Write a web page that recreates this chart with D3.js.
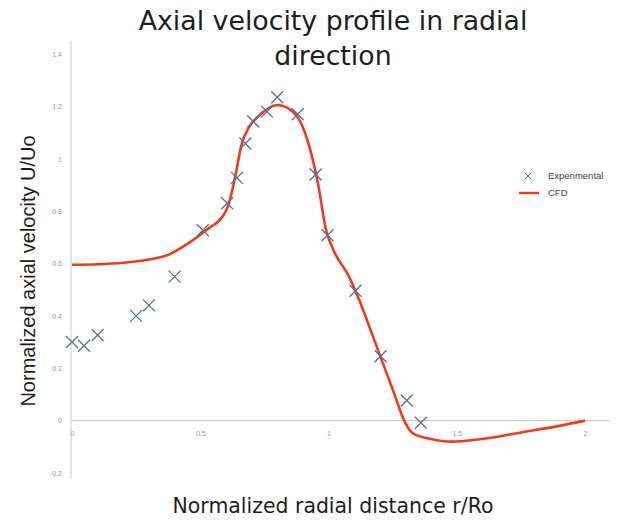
<!DOCTYPE html>
<html><head><meta charset="utf-8">
<script src="https://cdn.jsdelivr.net/npm/d3@7"></script>
<style>body{margin:0;background:#fff}svg{display:block}</style>
</head><body><svg id="c" width="640" height="520"></svg>
<script>
const xTicks = [0, 0.5, 1, 1.5, 2];
const xTickLabels = ["0", "0.5", "1", "1.5", "2"];
const yTicks = [-0.2, 0, 0.2, 0.4, 0.6, 0.8, 1, 1.2, 1.4];
const yTickLabels = ["-0.2", "0", "0.2", "0.4", "0.6", "0.8", "1", "1.2", "1.4"];
const expX = [0.00, 0.047, 0.10, 0.25, 0.30, 0.40, 0.51, 0.605, 0.643, 0.676, 0.707, 0.76, 0.80, 0.88, 0.95, 0.996, 1.105, 1.203, 1.305, 1.36];
const expY = [0.30, 0.286, 0.327, 0.40, 0.44, 0.55, 0.727, 0.83, 0.927, 1.058, 1.142, 1.18, 1.235, 1.17, 0.94, 0.708, 0.496, 0.246, 0.077, -0.008];
const cfdX = [0, 0.1, 0.2, 0.3, 0.38, 0.45, 0.52, 0.6, 0.62, 0.64, 0.66, 0.69, 0.73, 0.8, 0.86, 0.9, 0.93, 0.96, 0.99, 1.02, 1.08, 1.12, 1.2, 1.25, 1.3, 1.33, 1.4, 1.48, 1.6, 1.75, 1.9, 2.0];
const cfdY = [0.595, 0.597, 0.603, 0.615, 0.635, 0.675, 0.725, 0.80, 0.86, 0.95, 1.05, 1.12, 1.165, 1.205, 1.18, 1.12, 1.03, 0.9, 0.73, 0.65, 0.55, 0.46, 0.25, 0.12, -0.01, -0.05, -0.07, -0.08, -0.07, -0.045, -0.02, 0.0];
const seriesNames = ["Experimental", "CFD"];

const svg = d3.select("#c");
const x = d3.scaleLinear().domain([0, 2]).range([72, 585]);
const y = d3.scaleLinear().domain([-0.2, 1.4]).range([473, 54]);

function fitText(sel, targetW) {
  const w = sel.node().getComputedTextLength();
  const fs = parseFloat(sel.attr("font-size"));
  sel.attr("font-size", fs * targetW / w);
}

// title
const t1 = svg.append("text").attr("x", 333).attr("y", 30).attr("text-anchor", "middle")
  .attr("font-family", "DejaVu Sans").attr("font-size", 23).attr("fill", "#1e1e1e")
  .text("Axial velocity profile in radial");
fitText(t1, 389);
const t2 = svg.append("text").attr("x", 333).attr("y", 65).attr("text-anchor", "middle")
  .attr("font-family", "DejaVu Sans").attr("font-size", t1.attr("font-size")).attr("fill", "#1e1e1e")
  .text("direction");

// y axis
const yAxis = svg.append("g").attr("transform", "translate(71,0)")
  .call(d3.axisLeft(y).tickValues(yTicks).tickFormat((d, i) => yTickLabels[i]).tickSize(0).tickPadding(9));
yAxis.select(".domain").attr("stroke", "#c8c8c8").attr("d", `M0,${y(1.45)}V${y(-0.22)}`);
yAxis.selectAll("text").attr("font-family", "Liberation Sans").attr("font-size", 7).attr("fill", "#999");

// x axis at y=0
const xAxis = svg.append("g").attr("transform", `translate(0,${y(0)})`)
  .call(d3.axisBottom(x).tickValues(xTicks).tickFormat((d, i) => xTickLabels[i]).tickSize(0).tickPadding(10));
xAxis.select(".domain").attr("stroke", "#c8c8c8").attr("d", `M${x(0)},0H${x(2.1)}`);
xAxis.selectAll("text").attr("font-family", "Liberation Sans").attr("font-size", 7).attr("fill", "#999");

// CFD line
const cfd = cfdX.map((v, i) => [v, cfdY[i]]);
svg.append("path").datum(cfd)
  .attr("d", d3.line().x(d => x(d[0])).y(d => y(d[1])).curve(d3.curveMonotoneX))
  .attr("fill", "none").attr("stroke", "#f03a1c").attr("stroke-width", 2.6);

// experimental markers
const exp = expX.map((v, i) => [v, expY[i]]);
const sz = 6;
svg.append("g").selectAll("path").data(exp).join("path")
  .attr("d", d => { const cx = x(d[0]), cy = y(d[1]);
    return `M${cx - sz},${cy - sz}L${cx + sz},${cy + sz}M${cx - sz},${cy + sz}L${cx + sz},${cy - sz}`; })
  .attr("stroke", "#5b6f95").attr("stroke-width", 1.3).attr("fill", "none");

// legend
const lg = svg.append("g");
lg.append("path").attr("d", "M525,173L531,179M525,179L531,173").attr("stroke", "#5b6f95").attr("stroke-width", 1);
lg.append("text").attr("x", 548).attr("y", 179).attr("font-family", "Liberation Sans").attr("font-size", 9.5).attr("fill", "#444").text(seriesNames[0]);
lg.append("line").attr("x1", 519).attr("x2", 539).attr("y1", 193).attr("y2", 193).attr("stroke", "#f03a1c").attr("stroke-width", 2.4);
lg.append("text").attr("x", 548).attr("y", 196).attr("font-family", "Liberation Sans").attr("font-size", 9.5).attr("fill", "#444").text(seriesNames[1]);

// axis titles
svg.append("text").attr("transform", "translate(35,271) rotate(-90)").attr("text-anchor", "middle")
  .attr("font-family", "Liberation Sans").attr("font-size", 20).attr("fill", "#1e1e1e")
  .text("Normalized axial velocity U/Uo");
const xl = svg.append("text").attr("x", 333).attr("y", 513).attr("text-anchor", "middle")
  .attr("font-family", "DejaVu Sans").attr("font-size", 19).attr("fill", "#1e1e1e")
  .text("Normalized radial distance r/Ro");
fitText(xl, 321);
</script></body></html>
